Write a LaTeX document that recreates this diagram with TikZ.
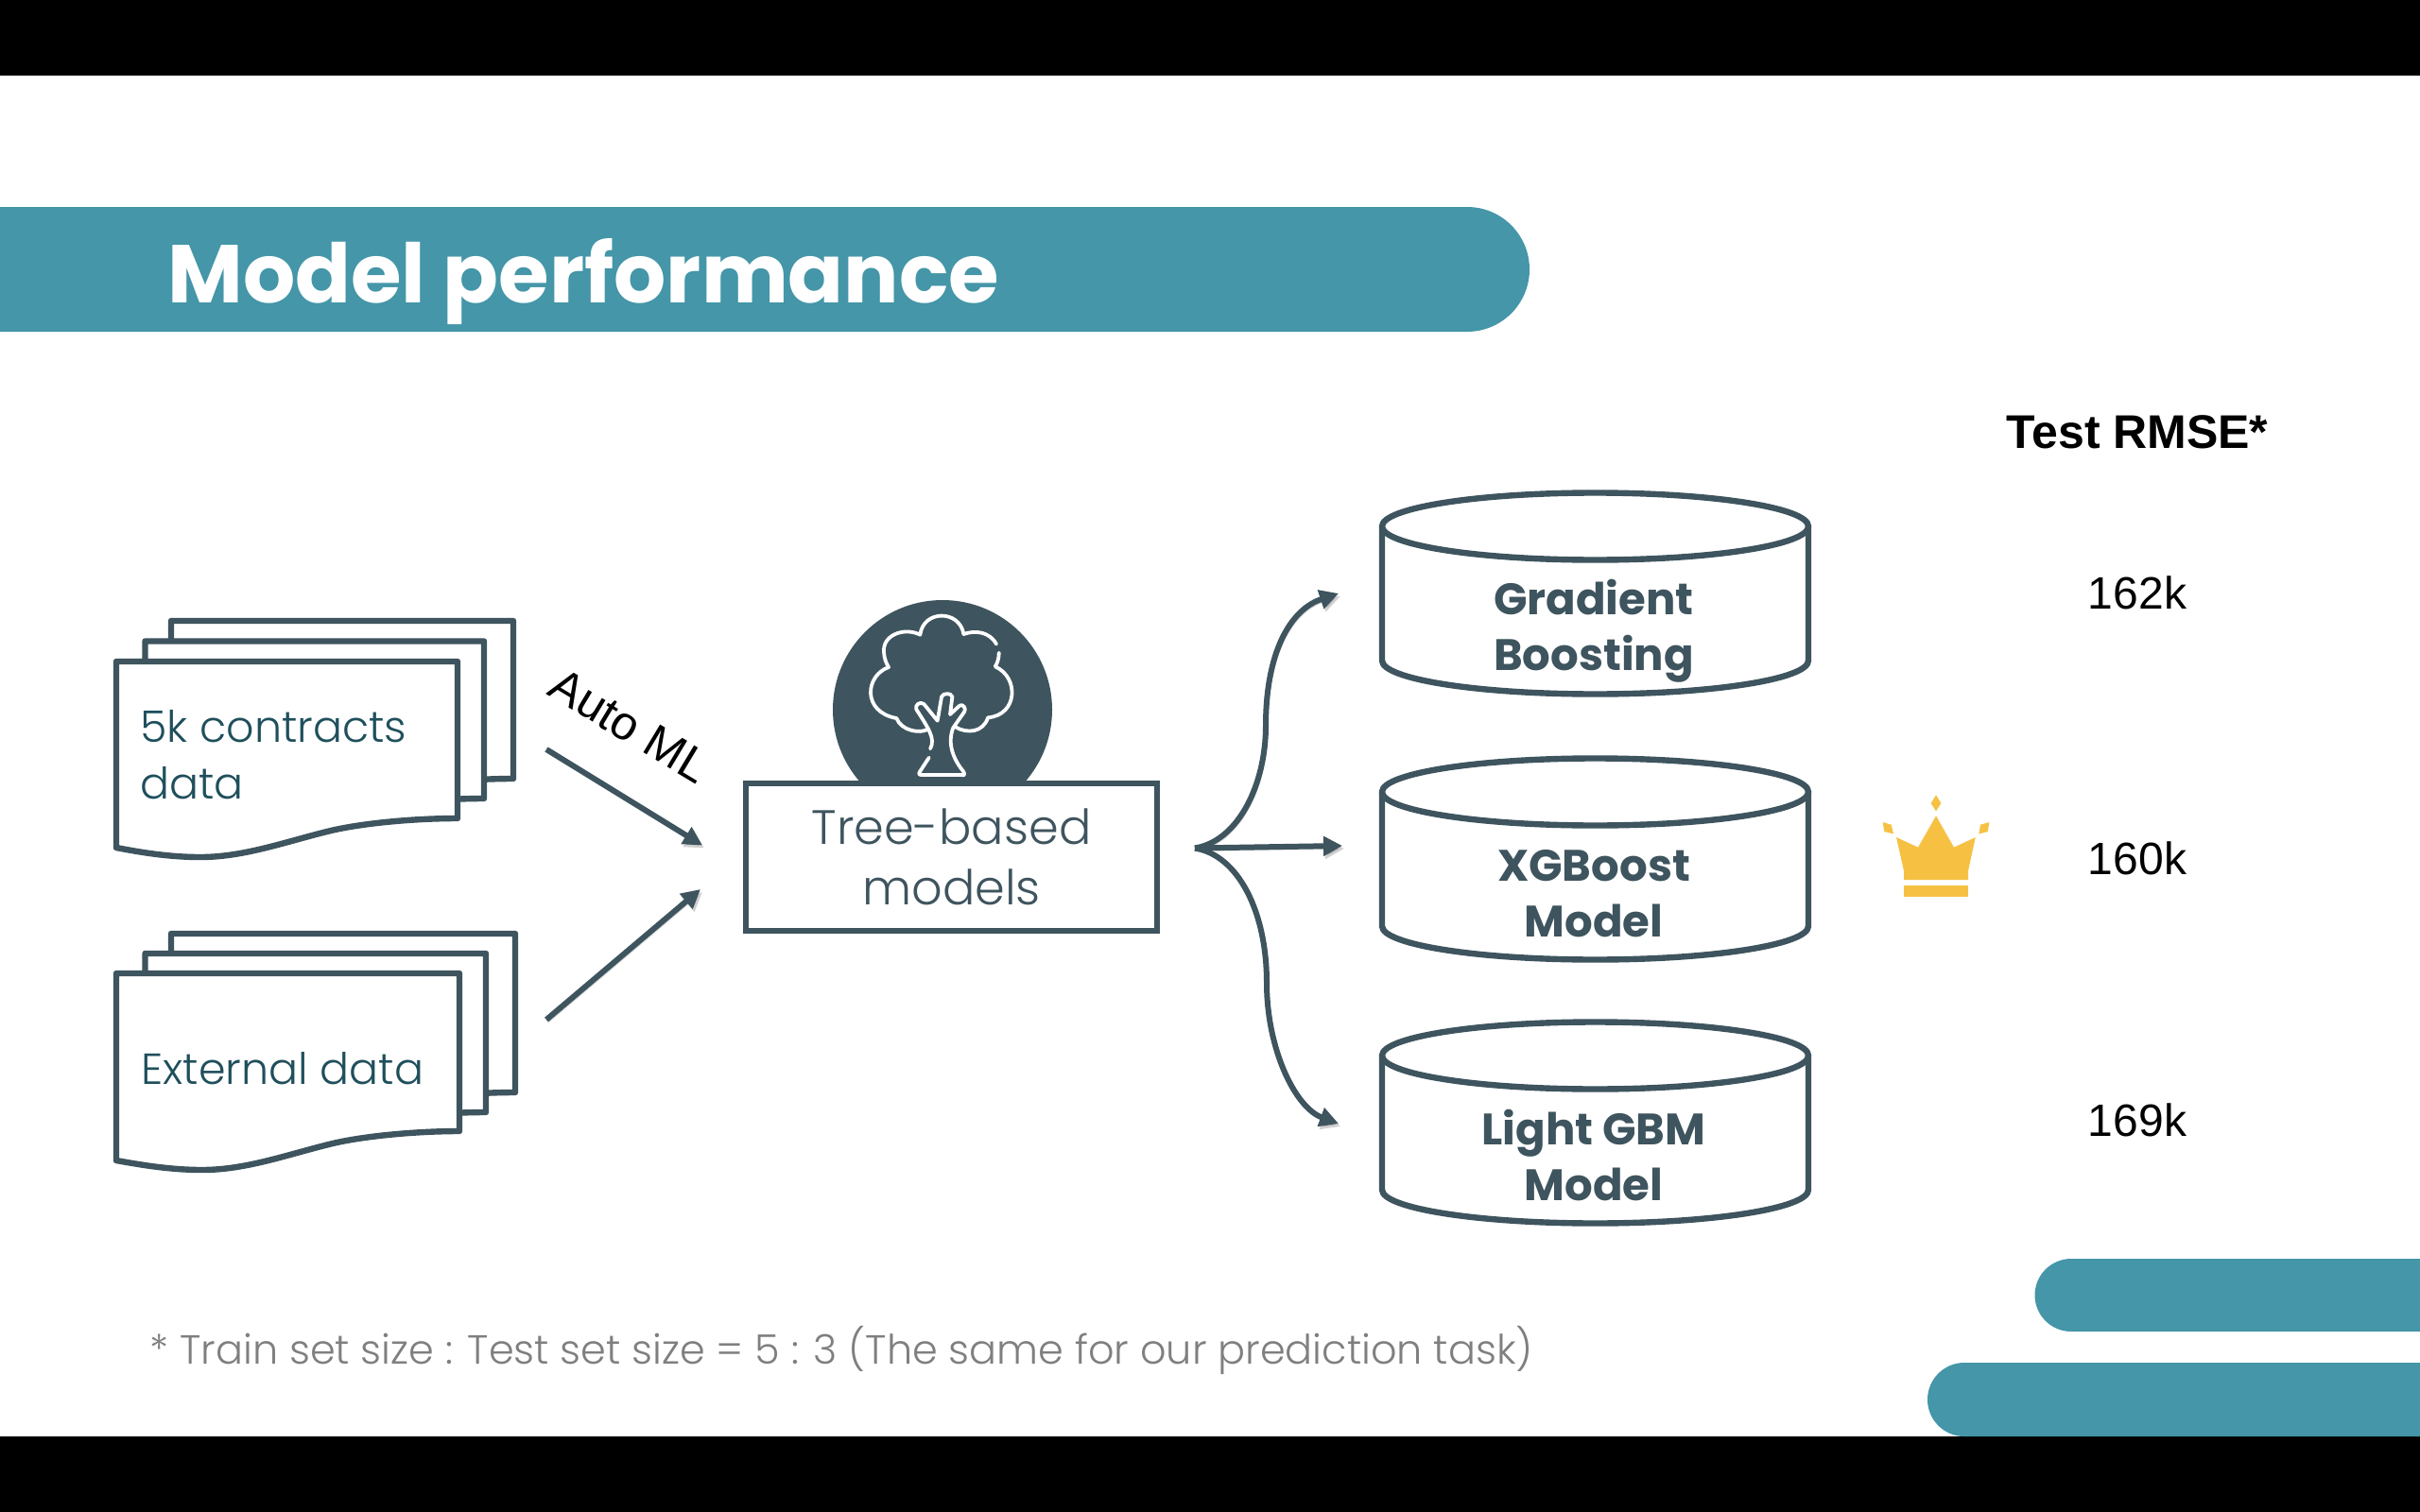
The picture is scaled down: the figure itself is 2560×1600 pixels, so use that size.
\documentclass[tikz,border=0pt]{standalone}
\usepackage{fontspec}
\setmainfont{Liberation Sans}
\newfontfamily\ralL{Poppins Light}
\newfontfamily\ralB{Poppins Bold}
\usetikzlibrary{arrows.meta}
\definecolor{barteal}{HTML}{4496A8}
\definecolor{slate}{HTML}{3E545E}
\definecolor{inkteal}{HTML}{1F4F5C}
\definecolor{crown}{HTML}{F6C143}
\definecolor{foot}{HTML}{7F7F7F}
\tikzset{
  page/.style={draw=slate,fill=white,line width=3.2pt,line join=round},
  cyl/.style={draw=slate,fill=white,line width=3.2pt,line join=round},
  flow/.style={draw=slate,line width=3pt,-{Triangle[length=10pt,width=10pt]},
    preaction={draw=black,opacity=.18,transform canvas={shift={(1pt,-1.5pt)}}}},
  leaf/.style={draw=white,line width=1.9pt,line cap=round,line join=round},
  gold/.style={fill=crown,draw=none},
  body/.style={font=\ralL\fontsize{23}{30}\selectfont,inner sep=0pt,align=left,text=inkteal},
  cyltext/.style={font=\ralB\fontsize{23.3}{29.5}\selectfont,inner sep=0pt,align=center,text=slate},
  metric/.style={font=\fontsize{24}{29}\selectfont,inner sep=0pt,text=black,anchor=base},
}
\newcommand{\docpage}[4]{% left, top, right, bottom-right
  \path[page] (#1,#2) -- (#3,#2) -- (#3,#4)
    .. controls ({#3-45},{#4}) and ({#3-100},{#4+5}) .. ({#3-134},{#4+13})
    .. controls ({#3-180},{#4+24}) and ({#3-225},{#4+41}) .. ({#3-272},{#4+41})
    .. controls ({#3-305},{#4+41}) and ({#3-335},{#4+36}) .. (#1,{#4+31}) -- cycle;}
\newcommand{\cylinder}[2]{% name, top y
  \path[cyl] (1462,{#2+36}) -- (1462,{#2+178})
    arc[x radius=225.5,y radius=35.5,start angle=180,end angle=0]
    -- (1913,{#2+36}) -- cycle;
  \path[cyl] (1687.5,{#2+36}) ellipse[x radius=225.5,y radius=35.5];}
\begin{document}
\begin{tikzpicture}[x=0.5pt,y=-0.5pt]
\useasboundingbox (0,0) rectangle (2560,1600);
\fill[white] (0,0) rectangle (2560,1600);
\fill[black] (0,0) rectangle (2560,80);
\fill[black] (0,1520) rectangle (2560,1600);
% header bar
\fill[barteal] (0,219) -- (1552,219) arc[start angle=-90,end angle=90,radius=66] -- (0,351) -- cycle;
\node[font=\ralB\fontsize{43.4}{50}\selectfont,text=white,anchor=base west,inner sep=0pt] (title) at (177,320) {Model performance};
% corner bars
\fill[barteal] (2560,1332) -- (2191,1332) arc[start angle=-90,end angle=-270,radius=38.5] -- (2560,1409) -- cycle;
\fill[barteal] (2560,1442) -- (2078,1442) arc[start angle=-90,end angle=-270,radius=39] -- (2560,1520) -- cycle;
% documents
\docpage{181}{657}{543}{824}
\docpage{153.5}{678.5}{512}{845}
\docpage{123}{700}{484}{866}
\node[body,anchor=west] (contracts) at (148,799) {5k contracts\\data};
\docpage{181}{988}{545}{1156}
\docpage{153.5}{1009}{514}{1177}
\docpage{123}{1030}{486}{1197}
\node[body,anchor=base west] (external) at (149,1147) {External data};
% tree badge
\fill[slate] (997,751) circle[radius=116];
\begin{scope}[shift={(760,600)},x=0.1667pt,y=-0.1667pt]
\draw[leaf] (882,245) .. controls (860,205) and (815,200) .. (778,213)
  .. controls (765,135) and (650,135) .. (640,215)
  .. controls (590,190) and (520,215) .. (525,270)
  .. controls (526,290) and (532,305) .. (540,318)
  .. controls (465,345) and (455,460) .. (565,480)
  .. controls (580,520) and (640,530) .. (664,515);
\draw[leaf] (890,272) .. controls (890,290) and (885,305) .. (878,316)
  .. controls (955,350) and (950,470) .. (855,478)
  .. controls (840,525) and (790,530) .. (752,508);
\draw[leaf] (672,577) .. controls (690,545) and (665,510) .. (628,452)
  .. controls (622,438) and (640,425) .. (652,435)
  -- (695,488) -- (708,412)
  .. controls (712,400) and (738,398) .. (742,412)
  -- (735,468) -- (765,440)
  .. controls (775,432) and (788,450) .. (780,460)
  -- (745,510)
  .. controls (725,560) and (745,610) .. (778,650)
  .. controls (782,660) and (780,662) .. (772,660)
  -- (645,660) .. controls (635,660) and (635,655) .. (640,648)
  -- (668,605);
\end{scope}
% tree box
\node[draw=slate,fill=white,line width=3.2pt,minimum width=217.5pt,minimum height=78pt,inner sep=0pt,
  font=\ralL\fontsize{25.5}{32}\selectfont,align=center,text=slate] (treebox) at (1006.5,907) {Tree-based\\models};
% cylinders
\cylinder{c1}{521}
\cylinder{c2}{802}
\cylinder{c3}{1081}
\node[cyltext] (gb) at (1686,668) {Gradient\\Boosting};
\node[cyltext] (xg) at (1686,946) {XGBoost\\Model};
\node[cyltext] (lg) at (1686,1223) {Light GBM\\Model};
% connectors
\coordinate (a1s) at (578,793);
\coordinate (a1e) at (743,894.5);
\coordinate (a2s) at (578,1079);
\coordinate (a2e) at (741,941);
\draw[flow] (a1s) -- (a1e);
\draw[flow] (a2s) -- (a2e);
\coordinate (fan) at (1264,897.5);
\coordinate (t1) at (1416,628);
\coordinate (t2) at (1420,895);
\coordinate (t3) at (1416,1189);
\draw[flow] (fan) .. controls (1310,890) and (1339,830) .. (1339,768)
  .. controls (1339,690) and (1365,645) .. (t1);
\draw[flow] (fan) -- (t2);
\draw[flow] (fan) .. controls (1310,905) and (1340,965) .. (1340,1040)
  .. controls (1340,1110) and (1370,1172) .. (t3);
\node[font=\fontsize{25}{29}\selectfont,rotate=-31,inner sep=0pt,text=black] (automl) at (666,768) {Auto ML};
% crown
\begin{scope}[shift={(1960,820)},x=0.1667pt,y=-0.1667pt]
\fill[gold] (264,64) -- (280,90) -- (264,115) -- (248,90) -- cycle;
\fill[gold] (264,130) -- (321,230) -- (389,198) -- (366,305) -- (366,333) -- (162,333) -- (162,305) -- (138,198) -- (207,230) -- cycle;
\fill[gold] (162,352) rectangle (366,386);
\fill[gold] (95,150) -- (122,158) -- (129,187) -- (100,180) -- cycle;
\fill[gold] (433,150) -- (405,158) -- (400,187) -- (428,180) -- cycle;
\end{scope}
% metrics
\node[metric,font=\bfseries\fontsize{25}{29}\selectfont] (rmse) at (2261,474) {Test RMSE*};
\node[metric] (m1) at (2261,644) {162k};
\node[metric] (m2) at (2261,925) {160k};
\node[metric] (m3) at (2261,1202) {169k};
% footnote
\node[font=\ralL\fontsize{21.5}{26}\selectfont,text=foot,anchor=base west,inner sep=0pt] (note) at (158,1443) {* Train set size : Test set size = 5 : 3 (The same for our prediction task)};
\end{tikzpicture}
\end{document}
